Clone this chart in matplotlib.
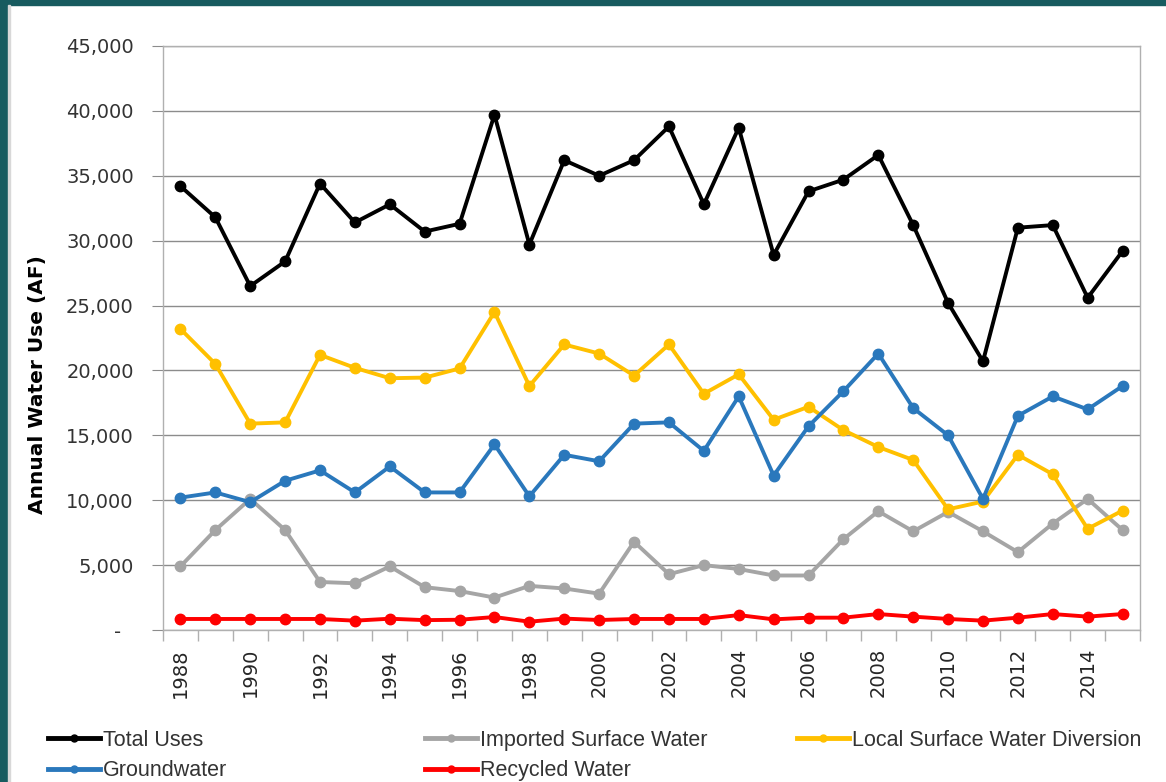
import numpy as np
import matplotlib
matplotlib.use("Agg")
from matplotlib import pyplot as plt
from matplotlib.lines import Line2D
from matplotlib.patches import Rectangle
from matplotlib.ticker import FuncFormatter, FixedLocator

# data (acre-feet)
years = list(range(1988, 2016))
total = [34200, 31800, 26500, 28400, 34400, 31400, 32800, 30700, 31300, 39700,
         29700, 36200, 35000, 36200, 38800, 32800, 38700, 28900, 33800, 34700,
         36600, 31200, 25200, 20700, 31000, 31200, 25600, 29200]
imported = [4900, 7700, 10100, 7700, 3700, 3600, 4900, 3300, 3000, 2500,
            3400, 3200, 2800, 6800, 4300, 5000, 4700, 4200, 4200, 7000,
            9150, 7600, 9100, 7600, 6000, 8200, 10100, 7700]
local = [23200, 20500, 15900, 16000, 21200, 20200, 19400, 19450, 20150, 24500,
         18800, 22000, 21300, 19600, 22000, 18200, 19700, 16200, 17200, 15400,
         14100, 13100, 9300, 9900, 13500, 12000, 7800, 9200]
ground = [10200, 10600, 9850, 11500, 12300, 10600, 12600, 10600, 10600, 14300,
          10300, 13500, 13000, 15900, 16000, 13800, 18000, 11900, 15700, 18400,
          21300, 17100, 15000, 10100, 16500, 18000, 17000, 18800]
recycled = [850, 850, 850, 850, 850, 720, 870, 760, 790, 1000,
            640, 880, 770, 850, 850, 850, 1150, 820, 950, 950,
            1230, 1030, 850, 720, 950, 1230, 1030, 1230]

series = [
    ("Total Uses", total, "#000000"),
    ("Imported Surface Water", imported, "#a5a5a5"),
    ("Local Surface Water Diversion", local, "#ffc000"),
    ("Groundwater", ground, "#2a78bc"),
    ("Recycled Water", recycled, "#ff0000"),
]

W, H = 1166, 782
fig = plt.figure(figsize=(W / 100, H / 100), dpi=100)
ax = fig.add_axes([163 / W, 1 - 630 / H, 977 / W, 584 / H])

x = np.arange(len(years))
for name, vals, col in series:
    ax.plot(x, vals, color=col, lw=2.8, marker="o", ms=7.5, label=name,
            solid_joinstyle="round")

ax.set_xlim(-0.5, len(years) - 0.5)
ax.set_ylim(0, 45000)
ax.set_yticks(np.arange(0, 45001, 5000))
ax.yaxis.set_major_formatter(FuncFormatter(lambda v, p: "-  " if v == 0 else f"{v:,.0f}"))
ax.grid(axis="y", color="#8c8c8c", lw=1.0)
ax.set_axisbelow(True)
for s in ax.spines.values():
    s.set_color("#b0b0b0")
    s.set_linewidth(1.0)

# labels every second year, tick marks between categories
ax.set_xticks(x[::2])
ax.set_xticklabels([str(y) for y in years[::2]], rotation=90)
ax.xaxis.set_minor_locator(FixedLocator(np.arange(-0.5, len(years), 1.0)))
ax.tick_params(axis="x", which="major", length=0, pad=13, labelsize=14,
               labelcolor="#262626")
ax.tick_params(axis="x", which="minor", length=8, color="#b0b0b0", width=1)
ax.tick_params(axis="y", length=8, color="#8c8c8c", pad=13, labelsize=14,
               labelcolor="#333333")

ax.set_ylabel("Annual Water Use (AF)", fontsize=14.5, fontweight="bold", color="#000000")
ax.yaxis.set_label_coords(-0.1187, 0.421)

# legend in three columns, like the original layout
handles = {}
for name, vals, col in series:
    handles[name] = Line2D([], [], color=col, lw=3.5, marker="o", ms=5)
cols = [(["Total Uses", "Groundwater"], 48),
        (["Imported Surface Water", "Recycled Water"], 425),
        (["Local Surface Water Diversion"], 797)]
for names, px in cols:
    leg = fig.legend([handles[n] for n in names], names, loc="upper left",
                     bbox_to_anchor=(px / W, 1 - 730 / H), frameon=False,
                     prop={"family": "Liberation Sans", "size": 15.5},
                     handlelength=2.4, handletextpad=0.15, borderpad=0,
                     borderaxespad=0, labelspacing=0.44)
    for t in leg.get_texts():
        t.set_color("#333333")

# teal frame around the slide
fig.patches.append(Rectangle((0, 0), 8 / W, 1, transform=fig.transFigure,
                             color="#175b5f", zorder=-1))
fig.patches.append(Rectangle((0, 1 - 5 / H), 1, 5 / H, transform=fig.transFigure,
                             color="#175b5f", zorder=-1))
fig.patches.append(Rectangle((8 / W, 0), 2 / W, 1 - 5 / H, transform=fig.transFigure,
                             color="#d8d8d8", zorder=-1))

fig.savefig("out.png", dpi=100)
